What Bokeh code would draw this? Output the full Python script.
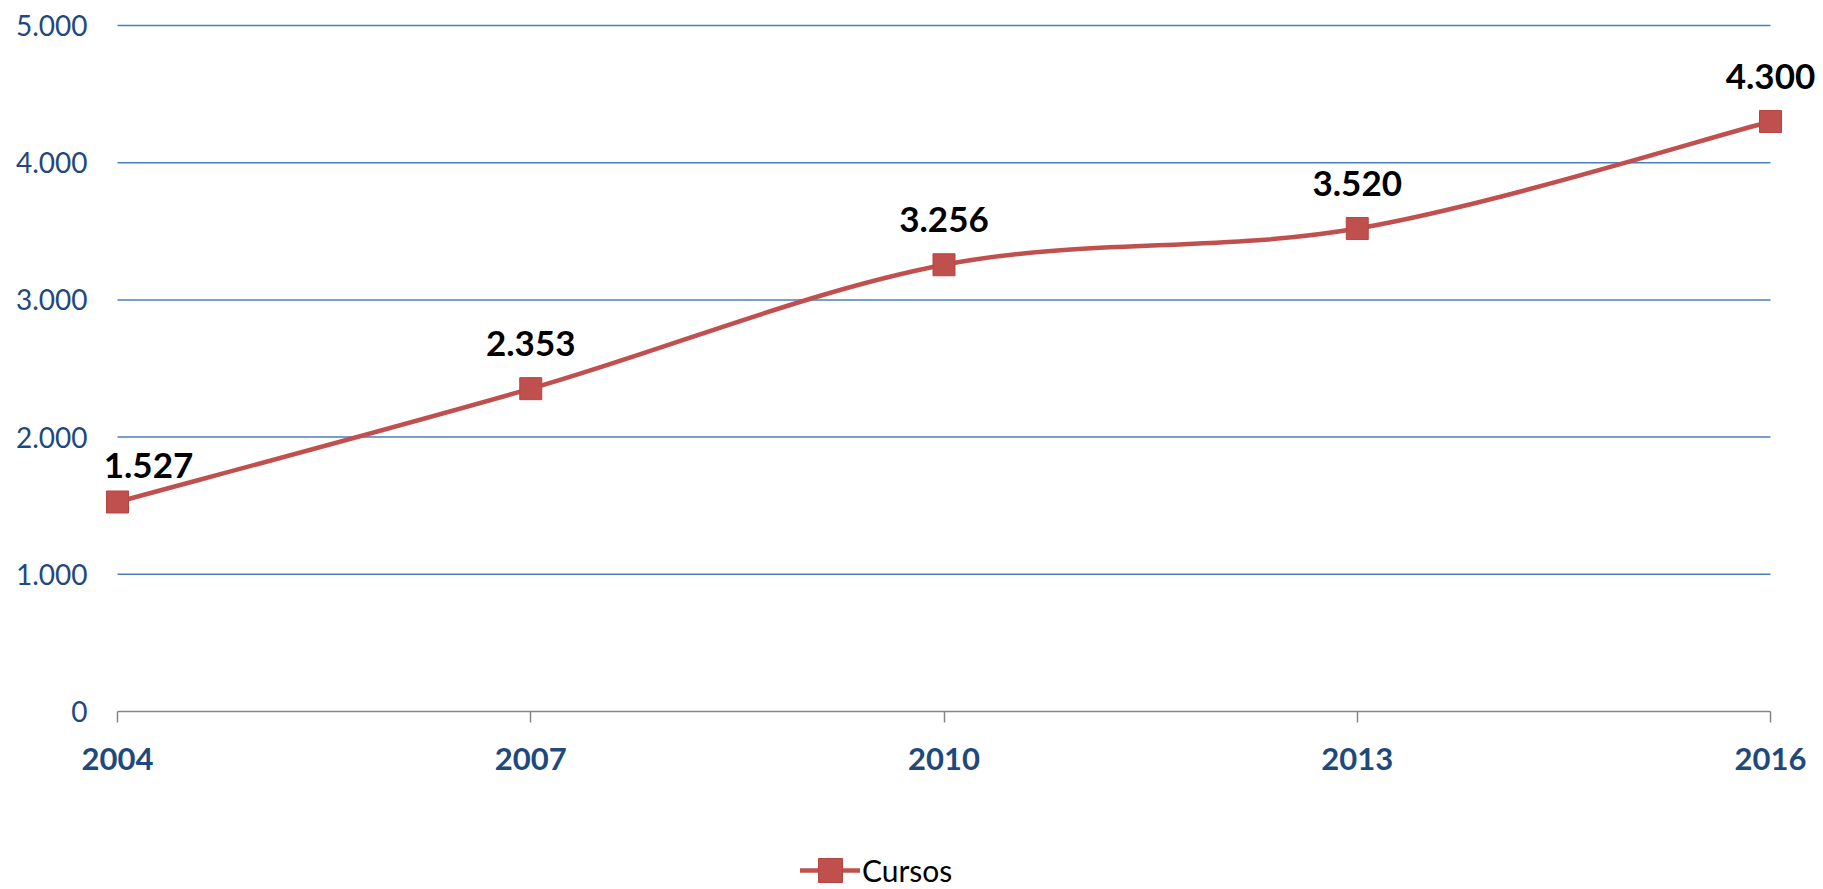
from bokeh.plotting import figure
from bokeh.models import (ColumnDataSource, FixedTicker, CustomJSTickFormatter,
                          LabelSet, Legend, LegendItem)
from bokeh.core.properties import value
from bokeh.embed import file_html
from bokeh.resources import INLINE

# ---- data ----
years = [2004, 2007, 2010, 2013, 2016]
cursos = [1527, 2353, 3256, 3520, 4300]
y_ticks = [0, 1000, 2000, 3000, 4000, 5000]
series_name = "Cursos"

LINE = "#C0504D"
BLUE_TXT = "#1F497D"
GRID = "#4A7EBB"
FONT = "Lato"


def fmt(v):
    return f"{int(v):,}".replace(",", ".")


W, H = 1823, 889
X_L, X_R = 117, 1770          # pixel positions of first / last year
Y_TOP, Y_ZERO = 25, 711       # pixel positions of top tick / zero
px_per_year = (X_R - X_L) / (years[-1] - years[0])
x_start = years[0] - X_L / px_per_year
x_end = years[-1] + (W - X_R) / px_per_year
px_per_unit = (Y_ZERO - Y_TOP) / (y_ticks[-1] - y_ticks[0])
y_start = y_ticks[0] - (H - Y_ZERO) / px_per_unit
y_end = y_ticks[-1] + Y_TOP / px_per_unit

p = figure(width=W, height=H, output_backend="svg", toolbar_location=None,
           x_range=(x_start, x_end), y_range=(y_start, y_end),
           min_border_left=0, min_border_right=0, min_border_top=0,
           min_border_bottom=0)
p.outline_line_color = None
p.background_fill_color = "white"
p.border_fill_color = "white"

# horizontal gridlines spanning the category axis only
gy = y_ticks[1:]
p.segment(x0=[years[0]] * len(gy), x1=[years[-1]] * len(gy), y0=gy, y1=gy,
          line_color=GRID, line_width=1.5)

# smoothed line (Catmull-Rom style Bezier, like spreadsheet "smooth line")
n = len(years)
bx0, by0, bx1, by1, cx0, cy0, cx1, cy1 = ([] for _ in range(8))
for i in range(n - 1):
    a = max(i - 1, 0)
    d = min(i + 2, n - 1)
    bx0.append(years[i]); by0.append(cursos[i])
    bx1.append(years[i + 1]); by1.append(cursos[i + 1])
    cx0.append(years[i] + (years[i + 1] - years[a]) / 6)
    cy0.append(cursos[i] + (cursos[i + 1] - cursos[a]) / 6)
    cx1.append(years[i + 1] - (years[d] - years[i]) / 6)
    cy1.append(cursos[i + 1] - (cursos[d] - cursos[i]) / 6)

bez = p.bezier(x0=bx0, y0=by0, x1=bx1, y1=by1, cx0=cx0, cy0=cy0, cx1=cx1, cy1=cy1,
               line_color=LINE, line_width=4.5, line_cap="round")

src = ColumnDataSource(dict(
    x=years, y=cursos, label=[fmt(v) for v in cursos],
    dx=[31 if i == 0 else 0 for i in range(n)],
    dy=[24 if i == 0 else 33 for i in range(n)],
))
sc = p.scatter("x", "y", source=src, marker="square", size=22,
               fill_color=LINE, line_color="#B5453F", line_width=1)

labels = LabelSet(x="x", y="y", text="label", source=src, x_offset="dx", y_offset="dy",
                  text_align="center", text_baseline="alphabetic",
                  text_font=value(FONT), text_font_style="bold", text_font_size="35px",
                  text_color="black")
p.add_layout(labels)

# axes (pinned inside the frame so nothing is cut)
p.xaxis.fixed_location = y_ticks[0]
p.xaxis.ticker = FixedTicker(ticks=years)
p.xaxis.bounds = (years[0], years[-1])
p.xaxis.major_label_text_font = FONT
p.xaxis.major_label_text_font_style = "bold"
p.xaxis.major_label_text_font_size = "31px"
p.xaxis.major_label_text_color = BLUE_TXT
p.xaxis.axis_line_color = "#868686"
p.xaxis.axis_line_width = 1.5
p.xaxis.major_tick_line_color = "#868686"
p.xaxis.major_tick_line_width = 1.5
p.xaxis.major_tick_in = 0
p.xaxis.major_tick_out = 11
p.xaxis.minor_tick_line_color = None
p.xaxis.major_label_standoff = 25

p.yaxis.fixed_location = years[0]
p.yaxis.ticker = FixedTicker(ticks=y_ticks)
p.yaxis.formatter = CustomJSTickFormatter(
    code="return Math.round(tick).toString().replace(/\\B(?=(\\d{3})+(?!\\d))/g, '.');")
p.yaxis.major_label_text_font = FONT
p.yaxis.major_label_text_font_size = "28px"
p.yaxis.major_label_text_color = BLUE_TXT
p.yaxis.axis_line_color = None
p.yaxis.major_tick_line_color = None
p.yaxis.minor_tick_line_color = None
p.yaxis.major_tick_out = 0
p.yaxis.major_tick_in = 0
p.yaxis.major_label_standoff = 30

p.xgrid.grid_line_color = None
p.ygrid.grid_line_color = None

legend = Legend(items=[LegendItem(label=series_name, renderers=[bez, sc])],
                location=(800, -12), orientation="horizontal",
                glyph_width=60, glyph_height=62, label_standoff=2,
                padding=0, margin=0, spacing=0,
                label_text_font=FONT, label_text_font_size="30px",
                label_text_color="black",
                border_line_color=None, background_fill_alpha=0)
p.add_layout(legend)

open("out.html", "w").write(file_html(p, INLINE))
